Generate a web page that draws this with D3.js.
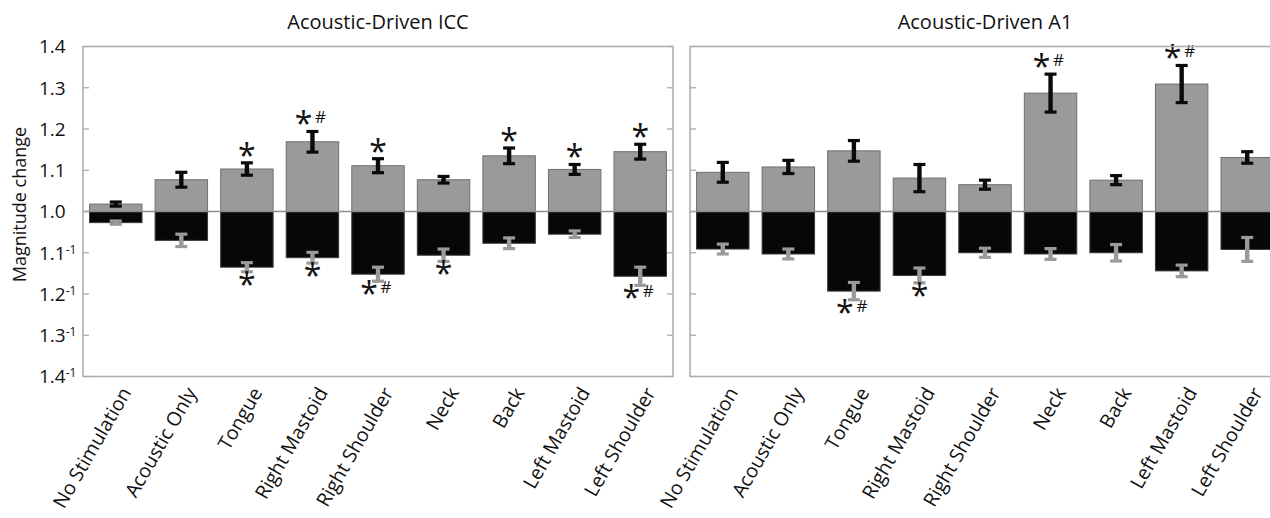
<!DOCTYPE html>
<html>
<head>
<meta charset="utf-8">
<script src="https://cdn.jsdelivr.net/npm/d3@7"></script>
<style>
  html, body { margin: 0; padding: 0; background: #fff; overflow: hidden; }
  svg { display: block; }
  text { font-family: "Open Sans", "Noto Sans", sans-serif; fill: #111; }
</style>
</head>
<body>
<svg id="chart" width="1270" height="518"></svg>
<script>
// Stimulation sites
const categories = ["No Stimulation", "Acoustic Only", "Tongue", "Right Mastoid",
  "Right Shoulder", "Neck", "Back", "Left Mastoid", "Left Shoulder"];

// Acoustic-driven ICC: increase (grey) and decrease (black) magnitudes, with SEM
const iccUp      = [1.018, 1.077, 1.103, 1.169, 1.111, 1.077, 1.135, 1.102, 1.145];
const iccUpErr   = [0.005, 0.018, 0.015, 0.025, 0.017, 0.008, 0.019, 0.012, 0.018];
const iccDown    = [1.027, 1.070, 1.135, 1.112, 1.152, 1.106, 1.077, 1.055, 1.157];
const iccDownErr = [0.004, 0.015, 0.011, 0.013, 0.017, 0.015, 0.013, 0.008, 0.022];
const iccUpSig   = ["", "", "*", "*#", "*", "", "*", "*", "*"];
const iccDownSig = ["", "", "*", "*", "*#", "*", "", "", "*#"];

// Acoustic-driven A1
const a1Up      = [1.095, 1.108, 1.147, 1.081, 1.065, 1.287, 1.076, 1.309, 1.131];
const a1UpErr   = [0.024, 0.016, 0.025, 0.033, 0.011, 0.046, 0.011, 0.045, 0.014];
const a1Down    = [1.091, 1.103, 1.193, 1.155, 1.100, 1.103, 1.100, 1.144, 1.092];
const a1DownErr = [0.012, 0.012, 0.021, 0.018, 0.011, 0.013, 0.020, 0.014, 0.029];
const a1UpSig   = ["", "", "", "", "", "*#", "", "*#", ""];
const a1DownSig = ["", "", "*#", "*", "", "", "", "", ""];

// Axis ticks (signed change: positive = x, negative = x^-1)
const tickValues = [0.4, 0.3, 0.2, 0.1, 0, -0.1, -0.2, -0.3, -0.4];

const svg = d3.select("#chart");
const plotTop = 46.5, plotBottom = 376.5, panelWidth = 590;
const y = d3.scaleLinear().domain([-0.4, 0.4]).range([plotBottom, plotTop]);

const GREY = "#9a9a9a", BLACK = "#070707", FRAME = "#ababab";

const panels = [
  { title: "Acoustic-Driven ICC", x0: 83, up: iccUp, upErr: iccUpErr, down: iccDown,
    downErr: iccDownErr, upSig: iccUpSig, downSig: iccDownSig },
  { title: "Acoustic-Driven A1", x0: 690, up: a1Up, upErr: a1UpErr, down: a1Down,
    downErr: a1DownErr, upSig: a1UpSig, downSig: a1DownSig }
];

panels.forEach(p => {
  const x = d3.scaleBand().domain(categories)
    .range([p.x0, p.x0 + panelWidth]).paddingInner(0.2).paddingOuter(0.1);
  const g = svg.append("g");
  const cx = c => x(c) + x.bandwidth() / 2;

  // bars: grey = increase, black = decrease
  g.selectAll("rect.up").data(categories).join("rect")
    .attr("x", c => x(c)).attr("width", x.bandwidth())
    .attr("y", (c, i) => y(p.up[i] - 1))
    .attr("height", (c, i) => y(0) - y(p.up[i] - 1))
    .attr("fill", GREY).attr("stroke", "#6f6f6f").attr("stroke-width", 1);
  g.selectAll("rect.down").data(categories).join("rect")
    .attr("x", c => x(c)).attr("width", x.bandwidth())
    .attr("y", y(0))
    .attr("height", (c, i) => y(-(p.down[i] - 1)) - y(0))
    .attr("fill", BLACK).attr("stroke", "#3a3a3a").attr("stroke-width", 1);

  // zero line
  g.append("line").attr("x1", p.x0).attr("x2", p.x0 + panelWidth)
    .attr("y1", y(0)).attr("y2", y(0)).attr("stroke", "#8c8c8c").attr("stroke-width", 1.3);

  // error bars
  function errorBars(vals, errs, sign, color) {
    const eg = g.append("g").attr("stroke", color);
    categories.forEach((c, i) => {
      const m = sign * (vals[i] - 1);
      const lo = y(m - errs[i]), hi = y(m + errs[i]);
      eg.append("line").attr("x1", cx(c)).attr("x2", cx(c))
        .attr("y1", lo).attr("y2", hi).attr("stroke-width", 4.4);
      [lo, hi].forEach(yy => eg.append("line")
        .attr("x1", cx(c) - 6).attr("x2", cx(c) + 6)
        .attr("y1", yy).attr("y2", yy).attr("stroke-width", 3.2));
    });
  }
  errorBars(p.up, p.upErr, 1, "#0a0a0a");
  errorBars(p.down, p.downErr, -1, "#9a9a9a");

  // significance marks: * vs. no stimulation, # vs. acoustic only
  function sigMarks(vals, errs, sigs, sign) {
    categories.forEach((c, i) => {
      const s = sigs[i];
      if (!s) return;
      const edge = y(sign * (vals[i] - 1 + errs[i]));
      const yc = edge - sign * 10;
      const hasHash = s.includes("#");
      g.append("text").attr("x", cx(c) - (hasHash ? 9 : 0)).attr("y", yc + 14)
        .attr("text-anchor", "middle").style("font-size", "32px").text("*");
      if (hasHash) {
        g.append("text").attr("x", cx(c) + 8).attr("y", yc + 2)
          .attr("text-anchor", "middle").style("font-size", "17px").text("#");
      }
    });
  }
  sigMarks(p.up, p.upErr, p.upSig, 1);
  sigMarks(p.down, p.downErr, p.downSig, -1);

  // frame
  g.append("rect").attr("x", p.x0).attr("y", plotTop)
    .attr("width", panelWidth).attr("height", plotBottom - plotTop)
    .attr("fill", "none").attr("stroke", FRAME).attr("stroke-width", 1.5);

  // inward ticks on both vertical edges
  tickValues.forEach(v => {
    [[p.x0, 6], [p.x0 + panelWidth, -6]].forEach(([xx, len]) => {
      g.append("line").attr("x1", xx).attr("x2", xx + len)
        .attr("y1", y(v)).attr("y2", y(v))
        .attr("stroke", FRAME).attr("stroke-width", 1.3);
    });
  });

  // title
  svg.append("text").attr("x", p.x0 + panelWidth / 2).attr("y", 29)
    .attr("text-anchor", "middle").style("font-size", "20px").text(p.title);

  // rotated category labels
  g.selectAll("text.cat").data(categories).join("text")
    .attr("text-anchor", "end")
    .attr("transform", c => `translate(${cx(c) + 16},${plotBottom + 16}) rotate(-60)`)
    .style("font-size", "19.5px").text(c => c);
});

// y tick labels
const yl = svg.append("g");
tickValues.forEach(v => {
  const t = yl.append("text").attr("x", 39).attr("y", y(v)).attr("dy", "0.36em")
    .style("font-size", "19px");
  t.append("tspan").text((1 + Math.abs(v)).toFixed(1));
  if (v < 0) t.append("tspan").attr("dy", "-0.5em").style("font-size", "12px").text("-1");
});

// y axis title
svg.append("text").attr("transform", `translate(26,${(plotTop + plotBottom) / 2 - 7}) rotate(-90)`)
  .attr("text-anchor", "middle").style("font-size", "18px").text("Magnitude change");
</script>
</body>
</html>
